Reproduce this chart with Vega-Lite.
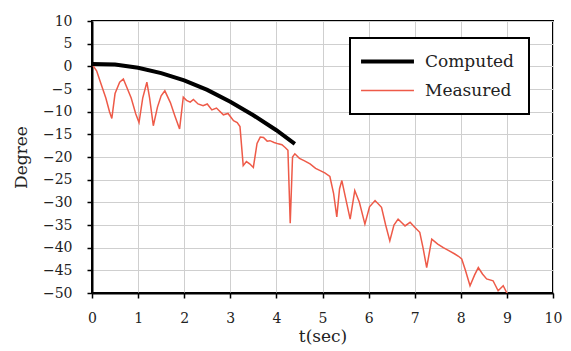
{
  "$schema": "https://vega.github.io/schema/vega-lite/v6.json",
  "width": 461,
  "height": 272,
  "autosize": {"type": "none"},
  "padding": {"left": 92, "top": 21, "right": 18, "bottom": 58},
  "background": "white",
  "config": {
    "view": {"stroke": "black", "strokeWidth": 2},
    "axis": {
      "labelFont": "DejaVu Serif",
      "labelFontSize": 14,
      "labelColor": "#222",
      "titleFont": "DejaVu Serif",
      "titleFontSize": 17,
      "titleFontWeight": "normal",
      "titleColor": "#222",
      "domainColor": "black",
      "domainWidth": 2,
      "tickColor": "black",
      "tickWidth": 1.5,
      "tickSize": 5,
      "gridColor": "#cfcfcf",
      "gridWidth": 1
    },
    "legend": {
      "labelFont": "DejaVu Serif",
      "labelFontSize": 17,
      "labelColor": "#222",
      "strokeColor": "black",
      "strokeWidth": 2,
      "fillColor": "white",
      "padding": 15,
      "rowPadding": 11,
      "labelOffset": 29,
      "symbolOffset": 14,
      "symbolType": "M-5,0H5",
      "symbolSize": 112
    }
  },
  "data": {
    "values": [
      {"t": 0, "deg": 0.5, "series": "Measured"},
      {"t": 0.1, "deg": -1, "series": "Measured"},
      {"t": 0.2, "deg": -4, "series": "Measured"},
      {"t": 0.3, "deg": -7, "series": "Measured"},
      {"t": 0.38, "deg": -10, "series": "Measured"},
      {"t": 0.43, "deg": -11.5, "series": "Measured"},
      {"t": 0.5, "deg": -6, "series": "Measured"},
      {"t": 0.6, "deg": -3.5, "series": "Measured"},
      {"t": 0.68, "deg": -2.8, "series": "Measured"},
      {"t": 0.75, "deg": -4.5, "series": "Measured"},
      {"t": 0.85, "deg": -7, "series": "Measured"},
      {"t": 0.95, "deg": -10.5, "series": "Measured"},
      {"t": 1.02, "deg": -12.4, "series": "Measured"},
      {"t": 1.1, "deg": -7, "series": "Measured"},
      {"t": 1.19, "deg": -3.5, "series": "Measured"},
      {"t": 1.25, "deg": -7, "series": "Measured"},
      {"t": 1.33, "deg": -13.1, "series": "Measured"},
      {"t": 1.42, "deg": -9, "series": "Measured"},
      {"t": 1.5, "deg": -6.5, "series": "Measured"},
      {"t": 1.58, "deg": -5.4, "series": "Measured"},
      {"t": 1.7, "deg": -8, "series": "Measured"},
      {"t": 1.8, "deg": -11, "series": "Measured"},
      {"t": 1.9, "deg": -13.8, "series": "Measured"},
      {"t": 1.98, "deg": -6.8, "series": "Measured"},
      {"t": 2.05, "deg": -7.5, "series": "Measured"},
      {"t": 2.13, "deg": -7.9, "series": "Measured"},
      {"t": 2.2, "deg": -7.3, "series": "Measured"},
      {"t": 2.3, "deg": -8.3, "series": "Measured"},
      {"t": 2.41, "deg": -8.7, "series": "Measured"},
      {"t": 2.5, "deg": -8.3, "series": "Measured"},
      {"t": 2.6, "deg": -9.6, "series": "Measured"},
      {"t": 2.7, "deg": -9.2, "series": "Measured"},
      {"t": 2.85, "deg": -10.7, "series": "Measured"},
      {"t": 2.95, "deg": -10.4, "series": "Measured"},
      {"t": 3.07, "deg": -12, "series": "Measured"},
      {"t": 3.15, "deg": -12.4, "series": "Measured"},
      {"t": 3.21, "deg": -13.3, "series": "Measured"},
      {"t": 3.28, "deg": -21.9, "series": "Measured"},
      {"t": 3.35, "deg": -21, "series": "Measured"},
      {"t": 3.42, "deg": -21.5, "series": "Measured"},
      {"t": 3.5, "deg": -22.3, "series": "Measured"},
      {"t": 3.58, "deg": -17, "series": "Measured"},
      {"t": 3.65, "deg": -15.6, "series": "Measured"},
      {"t": 3.72, "deg": -15.7, "series": "Measured"},
      {"t": 3.8, "deg": -16.5, "series": "Measured"},
      {"t": 3.86, "deg": -16.4, "series": "Measured"},
      {"t": 3.95, "deg": -16.8, "series": "Measured"},
      {"t": 4.04, "deg": -17.1, "series": "Measured"},
      {"t": 4.12, "deg": -17.3, "series": "Measured"},
      {"t": 4.19, "deg": -17.9, "series": "Measured"},
      {"t": 4.25, "deg": -18.5, "series": "Measured"},
      {"t": 4.3, "deg": -34.6, "series": "Measured"},
      {"t": 4.35, "deg": -20, "series": "Measured"},
      {"t": 4.4, "deg": -19.3, "series": "Measured"},
      {"t": 4.5, "deg": -20.3, "series": "Measured"},
      {"t": 4.6, "deg": -20.8, "series": "Measured"},
      {"t": 4.73, "deg": -21.5, "series": "Measured"},
      {"t": 4.85, "deg": -22.5, "series": "Measured"},
      {"t": 4.95, "deg": -23, "series": "Measured"},
      {"t": 5.05, "deg": -23.5, "series": "Measured"},
      {"t": 5.16, "deg": -24.3, "series": "Measured"},
      {"t": 5.24, "deg": -28, "series": "Measured"},
      {"t": 5.31, "deg": -33.2, "series": "Measured"},
      {"t": 5.37, "deg": -27, "series": "Measured"},
      {"t": 5.42, "deg": -25.2, "series": "Measured"},
      {"t": 5.5, "deg": -29, "series": "Measured"},
      {"t": 5.6, "deg": -33.7, "series": "Measured"},
      {"t": 5.7, "deg": -27.4, "series": "Measured"},
      {"t": 5.8, "deg": -30, "series": "Measured"},
      {"t": 5.92, "deg": -34.8, "series": "Measured"},
      {"t": 6.02, "deg": -31, "series": "Measured"},
      {"t": 6.14, "deg": -29.6, "series": "Measured"},
      {"t": 6.28, "deg": -31.1, "series": "Measured"},
      {"t": 6.37, "deg": -35, "series": "Measured"},
      {"t": 6.46, "deg": -38.5, "series": "Measured"},
      {"t": 6.55, "deg": -35, "series": "Measured"},
      {"t": 6.64, "deg": -33.7, "series": "Measured"},
      {"t": 6.72, "deg": -34.5, "series": "Measured"},
      {"t": 6.79, "deg": -35.2, "series": "Measured"},
      {"t": 6.9, "deg": -34.4, "series": "Measured"},
      {"t": 7.0, "deg": -35.5, "series": "Measured"},
      {"t": 7.11, "deg": -36.6, "series": "Measured"},
      {"t": 7.18, "deg": -40, "series": "Measured"},
      {"t": 7.26, "deg": -44.4, "series": "Measured"},
      {"t": 7.37, "deg": -38.1, "series": "Measured"},
      {"t": 7.5, "deg": -39.2, "series": "Measured"},
      {"t": 7.62, "deg": -40, "series": "Measured"},
      {"t": 7.75, "deg": -40.7, "series": "Measured"},
      {"t": 7.87, "deg": -41.4, "series": "Measured"},
      {"t": 7.95, "deg": -41.9, "series": "Measured"},
      {"t": 8.02, "deg": -42.5, "series": "Measured"},
      {"t": 8.1, "deg": -45, "series": "Measured"},
      {"t": 8.2, "deg": -48.4, "series": "Measured"},
      {"t": 8.3, "deg": -46, "series": "Measured"},
      {"t": 8.38, "deg": -44.4, "series": "Measured"},
      {"t": 8.47, "deg": -45.8, "series": "Measured"},
      {"t": 8.56, "deg": -46.9, "series": "Measured"},
      {"t": 8.7, "deg": -47.3, "series": "Measured"},
      {"t": 8.81, "deg": -49.5, "series": "Measured"},
      {"t": 8.92, "deg": -48.4, "series": "Measured"},
      {"t": 9.0, "deg": -50, "series": "Measured"},
      {"t": 0, "deg": 0.5, "series": "Computed"},
      {"t": 0.5, "deg": 0.4, "series": "Computed"},
      {"t": 1, "deg": -0.3, "series": "Computed"},
      {"t": 1.5, "deg": -1.5, "series": "Computed"},
      {"t": 2, "deg": -3.1, "series": "Computed"},
      {"t": 2.5, "deg": -5.2, "series": "Computed"},
      {"t": 3, "deg": -7.8, "series": "Computed"},
      {"t": 3.5, "deg": -10.8, "series": "Computed"},
      {"t": 4, "deg": -14.1, "series": "Computed"},
      {"t": 4.4, "deg": -17.1, "series": "Computed"}
    ]
  },
  "mark": {"type": "line", "clip": true},
  "encoding": {
    "x": {
      "field": "t",
      "type": "quantitative",
      "scale": {"domain": [0, 10], "nice": false},
      "axis": {"values": [0, 1, 2, 3, 4, 5, 6, 7, 8, 9, 10], "title": "t(sec)", "labelPadding": 13, "titlePadding": 3, "labelFlush": false}
    },
    "y": {
      "field": "deg",
      "type": "quantitative",
      "scale": {"domain": [-50, 10], "nice": false, "zero": false},
      "axis": {"values": [-50, -45, -40, -35, -30, -25, -20, -15, -10, -5, 0, 5, 10], "title": "Degree", "labelPadding": 15, "titlePadding": 12, "labelFlush": false}
    },
    "color": {
      "field": "series",
      "type": "nominal",
      "scale": {"domain": ["Computed", "Measured"], "range": ["black", "#ee5a48"]},
      "legend": {"title": null, "orient": "none", "legendX": 258, "legendY": 17}
    },
    "strokeWidth": {
      "field": "series",
      "type": "nominal",
      "scale": {"domain": ["Computed", "Measured"], "range": [4, 1.5]},
      "legend": {"title": null, "orient": "none", "legendX": 258, "legendY": 17}
    },
    "order": {"field": "t", "type": "quantitative"}
  }
}
